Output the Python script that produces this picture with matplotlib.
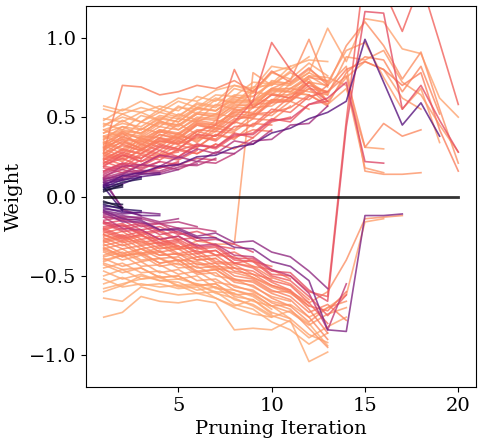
import numpy as np
import matplotlib
matplotlib.use('Agg')
import matplotlib.pyplot as plt

# ---- data: weight value at each pruning iteration (line stops when pruned) ----
iterations = np.arange(1, 21)

# positive weights, small ones get pruned early
pos_weights = [
    [0.030, 0.075],
    [0.040, 0.060],
    [0.045, 0.090, 0.110],
    [0.055, 0.070],
    [0.060, 0.105, 0.120],
    [0.070, 0.080, 0.125, 0.140],
    [0.075, 0.115],
    [0.085, 0.100, 0.140, 0.150],
    [0.090, 0.130, 0.125],
    [0.100, 0.110, 0.145, 0.140, 0.170],
    [0.105, 0.140, 0.150],
    [0.115, 0.120, 0.160, 0.150, 0.185, 0.205],
    [0.120, 0.150, 0.165, 0.160, 0.200, 0.195, 0.240],
    [0.13, 0.17, 0.14, 0.19, 0.17, 0.22, 0.21, 0.27],
    [0.14, 0.19, 0.15, 0.18, 0.21],
    [0.11, 0.14, 0.20, 0.19, 0.25, 0.22, 0.28, 0.27, 0.35, 0.36, 0.45, 0.46, 0.57],
    [0.15, 0.20, 0.18, 0.22],
    [0.16, 0.21, 0.17, 0.22, 0.20, 0.24, 0.23],
    [0.12, 0.19, 0.20, 0.26, 0.24, 0.30, 0.27, 0.35, 0.33, 0.42],
    [0.18, 0.15, 0.20, 0.18, 0.22],
    [0.19, 0.17, 0.23],
    [0.19, 0.26, 0.22, 0.29, 0.25, 0.33, 0.30, 0.38, 0.40, 0.49, 0.47, 0.58, 0.60],
    [0.20, 0.24, 0.19, 0.25, 0.23, 0.29],
    [0.21, 0.28, 0.24, 0.31, 0.29, 0.33, 0.31, 0.40, 0.37, 0.47, 0.50],
    [0.22, 0.18, 0.26, 0.23, 0.30, 0.27, 0.33, 0.30, 0.37],
    [0.23, 0.27, 0.22, 0.26, 0.28],
    [0.23, 0.30, 0.27, 0.33, 0.30, 0.38, 0.35, 0.44, 0.45, 0.55, 0.53, 0.63, 0.66],
    [0.24, 0.20, 0.27, 0.25, 0.29, 0.27, 0.33],
    [0.25, 0.33, 0.29, 0.36, 0.34, 0.39, 0.36, 0.47, 0.44, 0.53, 0.56, 0.64, 0.57],
    [0.26, 0.22, 0.30, 0.27, 0.35, 0.31, 0.39, 0.37, 0.42, 0.41],
    [0.27, 0.23, 0.29, 0.26, 0.32, 0.30],
    [0.27, 0.35, 0.30, 0.37, 0.33, 0.41, 0.38, 0.48, 0.52, 0.53, 0.63, 0.61, 0.70],
    [0.28, 0.24, 0.33, 0.29, 0.37, 0.31, 0.39, 0.36, 0.46, 0.45],
    [0.29, 0.38, 0.33, 0.39, 0.36, 0.45, 0.42, 0.51, 0.49, 0.61, 0.60, 0.72, 0.60],
    [0.30, 0.25, 0.35, 0.31, 0.40, 0.34, 0.43, 0.41, 0.49, 0.48, 0.57],
    [0.31, 0.36, 0.30, 0.35, 0.33, 0.37, 0.36],
    [0.31, 0.40, 0.32, 0.41, 0.37, 0.46, 0.43, 0.55, 0.52, 0.65, 0.62, 0.75, 0.73],
    [0.32, 0.27, 0.37, 0.33, 0.38, 0.36, 0.45, 0.42, 0.52, 0.51, 0.60, 0.55],
    [0.33, 0.41, 0.36, 0.42, 0.39, 0.48, 0.46, 0.53, 0.58, 0.59, 0.68, 0.66, 0.64],
    [0.34, 0.29, 0.36, 0.34, 0.39, 0.35, 0.41, 0.40],
    [0.35, 0.30, 0.38, 0.37, 0.46, 0.39, 0.48, 0.46, 0.56, 0.57, 0.65, 0.64],
    [0.36, 0.44, 0.39, 0.48, 0.42, 0.50, 0.49, 0.58, 0.57, 0.67, 0.66, 0.76, 0.69],
    [0.38, 0.33, 0.43, 0.40, 0.49, 0.47, 0.52, 0.50, 0.61, 0.60, 0.71],
    [0.40, 0.48, 0.42, 0.50, 0.47, 0.56, 0.54, 0.63, 0.60, 0.73, 0.71, 0.80, 0.72],
    [0.42, 0.37, 0.47, 0.44, 0.52, 0.48, 0.58, 0.55, 0.66, 0.64, 0.74],
    [0.44, 0.52, 0.47, 0.53, 0.50, 0.59, 0.57, 0.68, 0.65, 0.78, 0.74, 0.84, 0.76],
    [0.46, 0.42, 0.51, 0.48, 0.57, 0.52, 0.61, 0.59, 0.69, 0.70, 0.79],
    [0.48, 0.55, 0.53, 0.57, 0.54, 0.63, 0.60, 0.70, 0.68, 0.82, 0.80, 0.88],
    [0.49, 0.47, 0.53, 0.48, 0.56, 0.55, 0.62, 0.59, 0.67, 0.72],
    [0.55, 0.52, 0.56, 0.53, 0.60, 0.56, 0.64, 0.63, 0.72, 0.71, 0.82, 0.86, 0.85],
    [0.57, 0.54, 0.60, 0.55, 0.62, 0.60, 0.67, 0.70, 0.66, 0.78, 0.82],
    [0.28, 0.70, 0.69, 0.64, 0.66, 0.70, 0.68, 0.73, 0.66, 0.79, 0.72, 0.81, 0.70],
    [0.24, 0.29, 0.27, 0.35, 0.33, 0.41, 0.45, 0.80, 0.56, 0.64, 0.62, 0.72],
    [0.21, 0.26, 0.24, 0.32, 0.30, 0.39, 0.38, 0.47, 0.60, 0.97, 0.80, 0.69, 0.60],
]

# weights that flip sign right after the first iteration
cross_weights = [
    [0.09, -0.07],
    [0.06, -0.09],
    [0.11, -0.08, -0.12],
]

neg_weights = [
    [-0.03, -0.07],
    [-0.04, -0.05],
    [-0.05, -0.08, -0.09],
    [-0.06, -0.07],
    [-0.07, -0.10, -0.10],
    [-0.08, -0.09, -0.12, -0.12],
    [-0.09, -0.11, -0.10, -0.11],
    [-0.10, -0.12, -0.14],
    [-0.11, -0.13, -0.13, -0.16, -0.14],
    [-0.12, -0.15, -0.14, -0.17, -0.16, -0.19],
    [-0.13, -0.14, -0.17, -0.17, -0.20, -0.20, -0.22],
    [-0.10, -0.16, -0.16, -0.21, -0.20, -0.25, -0.23, -0.29, -0.28, -0.35, -0.38, -0.47, -0.58],
    [-0.15, -0.13, -0.19, -0.17, -0.23, -0.26],
    [-0.16, -0.19, -0.17, -0.22],
    [-0.16, -0.21, -0.18, -0.24, -0.22, -0.28, -0.27, -0.30, -0.35],
    [-0.17, -0.15, -0.21, -0.19, -0.24, -0.22, -0.26],
    [-0.13, -0.20, -0.21, -0.27, -0.25, -0.31, -0.30, -0.37, -0.38, -0.46, -0.50, -0.61, -0.84, -0.55],
    [-0.19, -0.17, -0.23, -0.21, -0.27, -0.26, -0.31, -0.33],
    [-0.20, -0.18, -0.24],
    [-0.20, -0.25, -0.22, -0.29, -0.27, -0.33, -0.32, -0.40, -0.41, -0.50, -0.53, -0.63, -0.75, -0.62],
    [-0.21, -0.18, -0.24, -0.22, -0.28],
    [-0.22, -0.27, -0.24, -0.31, -0.29, -0.36, -0.34, -0.42, -0.45, -0.53, -0.56, -0.67, -0.80],
    [-0.23, -0.20, -0.27, -0.25, -0.32, -0.30, -0.37, -0.35, -0.41, -0.44],
    [-0.24, -0.28, -0.25, -0.27, -0.31],
    [-0.24, -0.29, -0.27, -0.33, -0.31, -0.38, -0.37, -0.45, -0.47, -0.54, -0.59, -0.69, -0.72, -0.60],
    [-0.25, -0.22, -0.29, -0.27, -0.33, -0.32, -0.37, -0.38, -0.44, -0.46, -0.52],
    [-0.26, -0.31, -0.28, -0.35, -0.33, -0.40, -0.39, -0.47, -0.49, -0.56, -0.60, -0.71, -0.86],
    [-0.27, -0.24, -0.31, -0.29, -0.36, -0.34, -0.41, -0.42, -0.44, -0.51, -0.55, -0.65],
    [-0.28, -0.25, -0.30, -0.29, -0.33, -0.32],
    [-0.28, -0.33, -0.31, -0.37, -0.36, -0.43, -0.42, -0.50, -0.52, -0.59, -0.63, -0.73, -0.68, -0.78],
    [-0.29, -0.26, -0.33, -0.31, -0.37, -0.36, -0.42, -0.43, -0.49, -0.52],
    [-0.30, -0.36, -0.33, -0.39, -0.38, -0.45, -0.44, -0.52, -0.54, -0.61, -0.65, -0.76, -0.90],
    [-0.31, -0.28, -0.36, -0.34, -0.41, -0.38, -0.44, -0.45, -0.51, -0.56, -0.59],
    [-0.32, -0.38, -0.35, -0.42, -0.40, -0.48, -0.46, -0.54, -0.56, -0.64, -0.69, -0.79, -0.70, -0.66],
    [-0.33, -0.30, -0.37, -0.35, -0.40, -0.41, -0.45, -0.48, -0.51, -0.57, -0.61, -0.69],
    [-0.34, -0.38, -0.33, -0.37, -0.36, -0.40, -0.39],
    [-0.35, -0.40, -0.37, -0.44, -0.42, -0.49, -0.48, -0.57, -0.59, -0.67, -0.71, -0.83, -0.95],
    [-0.37, -0.33, -0.40, -0.39, -0.45, -0.44, -0.50, -0.52, -0.57, -0.63, -0.66],
    [-0.38, -0.35, -0.41, -0.39, -0.43, -0.42, -0.46, -0.45],
    [-0.39, -0.44, -0.41, -0.48, -0.46, -0.53, -0.52, -0.59, -0.62, -0.69, -0.73, -0.81, -0.74, -0.70],
    [-0.41, -0.37, -0.44, -0.43, -0.49, -0.47, -0.54, -0.56, -0.60, -0.66, -0.69],
    [-0.43, -0.48, -0.45, -0.51, -0.50, -0.56, -0.55, -0.63, -0.65, -0.73, -0.77, -0.87, -0.92],
    [-0.45, -0.42, -0.48, -0.47, -0.52, -0.50, -0.58, -0.59, -0.63, -0.71],
    [-0.47, -0.52, -0.49, -0.53, -0.54, -0.59, -0.57, -0.65, -0.68, -0.75, -0.79, -0.89, -0.82, -0.76],
    [-0.50, -0.46, -0.52, -0.51, -0.56, -0.55, -0.61, -0.64, -0.69, -0.76],
    [-0.52, -0.57, -0.55, -0.57, -0.56, -0.61, -0.60, -0.68, -0.71, -0.79, -0.84, -0.93, -0.86],
    [-0.55, -0.51, -0.56, -0.55, -0.58, -0.57, -0.64, -0.69, -0.65, -0.74],
    [-0.58, -0.55, -0.52, -0.50, -0.57, -0.56, -0.60, -0.61, -0.66, -0.69, -0.77],
    [-0.60, -0.56, -0.50, -0.53, -0.52, -0.55, -0.57, -0.61],
    [-0.64, -0.66, -0.57, -0.60, -0.62, -0.61, -0.64, -0.70, -0.74, -0.76, -0.72, -0.80, -0.94],
    [-0.76, -0.73, -0.63, -0.66, -0.67, -0.65, -0.67, -0.84, -0.83, -0.84, -0.78, -1.04, -0.98],
]

# weights that survive late (some flip sign around iteration 8, 13-15)
late_weights = [
    [0.45, 0.50, 0.47, 0.55, 0.51, 0.58, 0.56, 0.64, 0.63, 0.72, 0.71, 0.78, 1.06, 0.85, 1.12, 1.10, 0.93, 0.90, 0.62, 0.50],
    [0.33, 0.37, 0.35, 0.42, 0.40, 0.47, 0.45, 0.54, 0.56, 0.68, 0.73, 0.99, 0.70, 0.95, 1.10, 0.95, 0.74, 0.91, 0.55, 0.21],
    [0.30, 0.34, 0.31, 0.39, 0.37, 0.45, 0.43, 0.52, 0.51, 0.60, 0.60, 0.68, 0.58, 0.78, 0.88, 0.86, 0.66, 0.82, 0.52],
    [0.27, 0.32, 0.29, 0.37, 0.35, 0.42, 0.41, 0.49, 0.50, 0.59, 0.60, 0.70, 0.66, 0.80, 0.85, 0.80, 0.70, 0.78, 0.42, 0.16],
    [0.40, 0.44, 0.42, 0.49, 0.47, 0.55, 0.54, 0.62, 0.63, 0.71, 0.70, 0.78, 0.72, 0.92, 0.97, 0.75, 0.55, 0.68, 0.34],
    [0.36, 0.40, 0.38, 0.46, 0.44, 0.52, 0.50, 0.57, 0.58, 0.66, 0.66, 0.72, 0.64, 0.88, 0.86, 0.92, 0.72, 0.64, 0.45, 0.28],
    [0.38, 0.42, 0.40, 0.47, 0.45, 0.53, 0.52, 0.60, 0.60, 0.68, 0.68, 0.74, 0.60, 0.75, 0.85, 0.80, 0.62, 0.55],
    [0.07, 0.13, 0.15, 0.19, 0.20, 0.25, 0.26, 0.31, 0.33, 0.40, 0.43, 0.49, 0.53, 0.60, 0.99, 0.72, 0.45, 0.59, 0.38],
    [-0.21, -0.26, -0.24, -0.30, -0.28, -0.35, -0.34, -0.42, -0.40, -0.49, -0.50, -0.60, -0.63, 0.48, 1.45, 1.30, 1.04, 1.35, 0.97, 0.58],
    [-0.17, -0.22, -0.21, -0.27, -0.25, -0.32, -0.31, -0.39, -0.39, -0.47, -0.48, -0.59, -0.66, 0.44, 1.165, 1.155, 0.55, 0.70, 0.48, 0.28],
    [0.34, 0.39, 0.37, 0.44, 0.42, 0.49, 0.48, 0.56, 0.56, 0.64, 0.64, 0.72, 0.70, 0.82, 0.16, 0.14, 0.14, 0.15],
    [0.16, 0.21, 0.20, 0.26, 0.25, 0.32, 0.31, 0.39, 0.39, 0.48, 0.49, 0.58, 0.62, 0.72, 0.22, 0.21],
    [0.31, 0.36, 0.34, 0.41, 0.39, 0.46, 0.45, 0.53, 0.53, 0.61, 0.61, 0.68, 0.66, 0.76, 0.31, 0.46, 0.38, 0.42],
    [0.42, 0.46, 0.44, 0.51, 0.49, 0.56, 0.54, 0.61, 0.60, 0.68, 0.66, 0.64, 0.58, 0.68, 0.31, 0.30],
    [0.37, 0.41, 0.40, 0.47, 0.45, 0.52, 0.51, 0.59, 0.59, 0.67, 0.68, 0.76, 0.75, 0.70, 0.18, 0.15],
    [-0.09, -0.14, -0.15, -0.21, -0.21, -0.26, -0.26, -0.32, -0.33, -0.41, -0.44, -0.53, -0.84, -0.85, -0.12, -0.12, -0.11],
    [-0.33, -0.37, -0.36, -0.42, -0.40, -0.47, -0.46, -0.53, -0.53, -0.60, -0.60, -0.67, -0.60, -0.40, -0.14, -0.13, -0.12],
    [-0.42, -0.46, -0.45, -0.51, -0.50, -0.56, -0.55, -0.62, -0.61, -0.69, -0.68, -0.76, -0.70, -0.62, -0.16, -0.14],
    [-0.40, -0.37, -0.36, -0.32, -0.33, -0.28, -0.30, -0.30, 0.78, 0.70, 0.78, 0.72, 0.65],
]

plt.rcParams['font.family'] = 'DejaVu Serif'
plt.rcParams['font.size'] = 14


def line_color(w0):
    # สีตามขนาดน้ำหนักเริ่มต้น: เล็ก = ม่วงเข้ม, ใหญ่ = ส้มอ่อน
    pos = np.interp(abs(w0), [0, 0.04, 0.08, 0.12, 0.17, 0.25, 0.35, 0.5],
                    [0.0, 0.12, 0.32, 0.50, 0.62, 0.72, 0.78, 0.82])
    return plt.cm.magma(pos)


fig = plt.figure(figsize=(4.83, 4.43), dpi=100)
ax = fig.add_axes([86 / 483, 56 / 443, 390 / 483, 381 / 443])

all_lines = pos_weights + cross_weights + neg_weights + late_weights
for w in sorted(all_lines, key=lambda w: -abs(w[0])):
    ax.plot(iterations[:len(w)], w, color=line_color(w[0]), linewidth=1.2, alpha=0.8)

ax.plot(iterations, np.zeros(len(iterations)), color='k', linewidth=2, alpha=0.8, zorder=3)

ax.set_xlim(0.05, 20.95)
ax.set_ylim(-1.2, 1.2)
ax.set_xticks([5, 10, 15, 20])
ax.set_yticks([-1.0, -0.5, 0.0, 0.5, 1.0])
ax.set_xlabel('Pruning Iteration')
ax.set_ylabel('Weight')

fig.savefig('out.png', dpi=100)
